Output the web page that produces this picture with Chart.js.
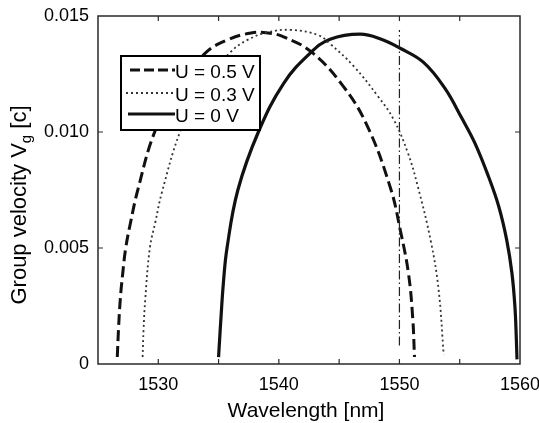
<!DOCTYPE html>
<html>
<head>
<meta charset="utf-8">
<script src="https://cdn.jsdelivr.net/npm/chart.js@4/dist/chart.umd.min.js"></script>
<style>
  html, body { margin: 0; padding: 0; background: #fff; }
  #chart { display: block; }
</style>
</head>
<body>
<canvas id="chart" width="539" height="423"></canvas>
<script>
// values
const seriesLabels = ['U = 0.5 V', 'U = 0.3 V', 'U = 0 V'];

const wlU05 = [1526.6, 1526.7, 1526.85, 1527.05, 1527.3, 1527.7, 1528.3, 1529.7, 1531.5, 1533.9, 1535.75, 1537.7, 1539.1, 1540.4, 1542.7, 1545.3, 1547.3, 1549.25, 1550.1, 1550.75, 1551.1, 1551.25];
const vgU05 = [0.0003, 0.0015, 0.0028, 0.0039, 0.005, 0.0061, 0.0075, 0.0100, 0.0118, 0.0134, 0.01397, 0.01427, 0.01427, 0.0141, 0.01345, 0.0120, 0.0103, 0.0076, 0.0057, 0.0039, 0.0020, 0.0003];

const wlU03 = [1528.7, 1528.78, 1528.92, 1529.3, 1529.75, 1530.3, 1531.8, 1533.6, 1536.0, 1537.4, 1539.1, 1541.0, 1543.25, 1544.25, 1546.2, 1548.2, 1549.5, 1550.7, 1551.5, 1552.6, 1553.25, 1553.67];
const vgU03 = [0.0003, 0.0015, 0.0028, 0.005, 0.0061, 0.0074, 0.0100, 0.0120, 0.01345, 0.01397, 0.0143, 0.0144, 0.01418, 0.0138, 0.01284, 0.01155, 0.01056, 0.0091, 0.0077, 0.0053, 0.0032, 0.0004];

const wlU0 = [1535.0, 1535.08, 1535.2, 1535.4, 1535.7, 1536.6, 1538.3, 1540.4, 1542.6, 1544.25, 1546.75, 1548.5, 1550.1, 1552.0, 1553.75, 1555.17, 1556.25, 1557.4, 1558.25, 1558.9, 1559.33, 1559.58, 1559.7, 1559.75];
const vgU0 = [0.0003, 0.001, 0.002, 0.0035, 0.005, 0.0075, 0.0100, 0.0121, 0.0134, 0.0140, 0.01422, 0.0140, 0.0136, 0.0130, 0.0119, 0.0106, 0.00953, 0.00806, 0.00677, 0.00534, 0.00392, 0.00246, 0.00103, 0.0002];

// vertical dash-dot marker at 1550 nm
const markerWl = [1550, 1550];
const markerVg = [0.0008, 0.0144];

const xTickLabels = [1530, 1540, 1550, 1560];
const yTickLabels = ['0', '0.005', '0.010', '0.015'];

const FONT = '"Liberation Sans", Arial, Helvetica, sans-serif';

function toPoints(xs, ys) {
    return xs.map((x, i) => ({ x: x, y: ys[i] }));
}

// frame, inward ticks, axis titles and the boxed legend
const decorPlugin = {
    id: 'decor',
    afterDatasetsDraw(chart) {
        const ctx = chart.ctx;
        const a = chart.chartArea;
        const xs = chart.scales.x;
        const ys = chart.scales.y;
        ctx.save();

        // frame
        ctx.strokeStyle = '#2a2a2a';
        ctx.lineWidth = 1.5;
        ctx.setLineDash([]);
        ctx.strokeRect(a.left, a.top, a.right - a.left, a.bottom - a.top);

        // inward ticks
        const tl = 5;
        ctx.lineWidth = 1.2;
        ctx.beginPath();
        xs.ticks.forEach(t => {
            const px = xs.getPixelForValue(t.value);
            if (px <= a.left + 1 || px >= a.right - 1) return;
            ctx.moveTo(px, a.bottom); ctx.lineTo(px, a.bottom - tl);
            ctx.moveTo(px, a.top); ctx.lineTo(px, a.top + tl);
        });
        ys.ticks.forEach(t => {
            const py = ys.getPixelForValue(t.value);
            if (py <= a.top + 1 || py >= a.bottom - 1) return;
            ctx.moveTo(a.left, py); ctx.lineTo(a.left + tl, py);
            ctx.moveTo(a.right, py); ctx.lineTo(a.right - tl, py);
        });
        ctx.stroke();

        // legend box
        const bx = 121, by = 56, bw = 139, bh = 74;
        ctx.fillStyle = '#fff';
        ctx.fillRect(bx, by, bw, bh);
        ctx.strokeStyle = '#000';
        ctx.lineWidth = 2;
        ctx.strokeRect(bx, by, bw, bh);

        const rows = [
            { y: 70, x0: 130, dash: [10, 4], width: 3, color: '#111' },
            { y: 93, x0: 126, dash: [2, 3], width: 1.8, color: '#333' },
            { y: 114, x0: 128, dash: [], width: 3.2, color: '#111' }
        ];
        rows.forEach((r, i) => {
            ctx.beginPath();
            ctx.setLineDash(r.dash);
            ctx.lineWidth = r.width;
            ctx.strokeStyle = r.color;
            ctx.moveTo(r.x0, r.y);
            ctx.lineTo(175, r.y);
            ctx.stroke();
            ctx.setLineDash([]);
            ctx.fillStyle = '#000';
            ctx.font = '19px ' + FONT;
            ctx.textBaseline = 'alphabetic';
            ctx.textAlign = 'left';
            ctx.fillText(seriesLabels[i], 175, r.y + 8);
        });

        // x axis title
        ctx.fillStyle = '#000';
        ctx.font = '21px ' + FONT;
        ctx.textAlign = 'center';
        ctx.textBaseline = 'alphabetic';
        ctx.fillText('Wavelength [nm]', 306, 417);

        // y axis title with subscript
        const main = 'Group velocity V';
        const sub = 'g';
        const tail = ' [c]';
        ctx.font = '22px ' + FONT;
        const w1 = ctx.measureText(main).width;
        const w3 = ctx.measureText(tail).width;
        ctx.font = '15px ' + FONT;
        const w2 = ctx.measureText(sub).width;
        const total = w1 + w2 + w3;
        ctx.translate(26, 205);
        ctx.rotate(-Math.PI / 2);
        ctx.textAlign = 'left';
        let cx = -total / 2;
        ctx.font = '22px ' + FONT;
        ctx.fillText(main, cx, 0);
        cx += w1;
        ctx.font = '15px ' + FONT;
        ctx.fillText(sub, cx, 5);
        cx += w2;
        ctx.font = '22px ' + FONT;
        ctx.fillText(tail, cx, 0);

        ctx.restore();
    }
};

const ctx = document.getElementById('chart').getContext('2d');

new Chart(ctx, {
    type: 'scatter',
    data: {
        datasets: [
            {
                label: 'marker',
                data: toPoints(markerWl, markerVg),
                showLine: true,
                borderColor: '#222',
                borderWidth: 1.2,
                borderDash: [9, 3, 1.5, 3],
                pointRadius: 0
            },
            {
                label: seriesLabels[1],
                data: toPoints(wlU03, vgU03),
                showLine: true,
                borderColor: '#333',
                borderWidth: 1.8,
                borderDash: [2, 3],
                pointRadius: 0,
                tension: 0.4
            },
            {
                label: seriesLabels[0],
                data: toPoints(wlU05, vgU05),
                showLine: true,
                borderColor: '#111',
                borderWidth: 3,
                borderDash: [11, 5],
                pointRadius: 0,
                tension: 0.4
            },
            {
                label: seriesLabels[2],
                data: toPoints(wlU0, vgU0),
                showLine: true,
                borderColor: '#111',
                borderWidth: 3.2,
                pointRadius: 0,
                tension: 0.4
            }
        ]
    },
    options: {
        responsive: false,
        animation: false,
        layout: {
            padding: { top: 16, right: 19, left: 0, bottom: 0 }
        },
        plugins: {
            legend: { display: false },
            tooltip: { enabled: false }
        },
        scales: {
            x: {
                type: 'linear',
                min: 1525,
                max: 1560,
                grid: { display: false, drawTicks: false },
                border: { display: false },
                ticks: {
                    stepSize: 5,
                    padding: 10,
                    maxRotation: 0,
                    autoSkip: false,
                    color: '#000',
                    font: { family: FONT, size: 18 },
                    callback: function(value) {
                        return xTickLabels.includes(value) ? String(value) : '';
                    }
                },
                afterFit: function(scale) {
                    scale.height = 59;
                    scale.paddingLeft = 0;
                    scale.paddingRight = 0;
                }
            },
            y: {
                type: 'linear',
                min: 0,
                max: 0.015,
                grid: { display: false, drawTicks: false },
                border: { display: false },
                ticks: {
                    stepSize: 0.005,
                    padding: 9,
                    color: '#000',
                    font: { family: FONT, size: 18 },
                    callback: function(value) {
                        const i = Math.round(value / 0.005);
                        return yTickLabels[i] !== undefined ? yTickLabels[i] : '';
                    }
                },
                afterFit: function(scale) {
                    scale.width = 98;
                    scale.paddingTop = 0;
                    scale.paddingBottom = 0;
                }
            }
        }
    },
    plugins: [decorPlugin]
});
</script>
</body>
</html>
